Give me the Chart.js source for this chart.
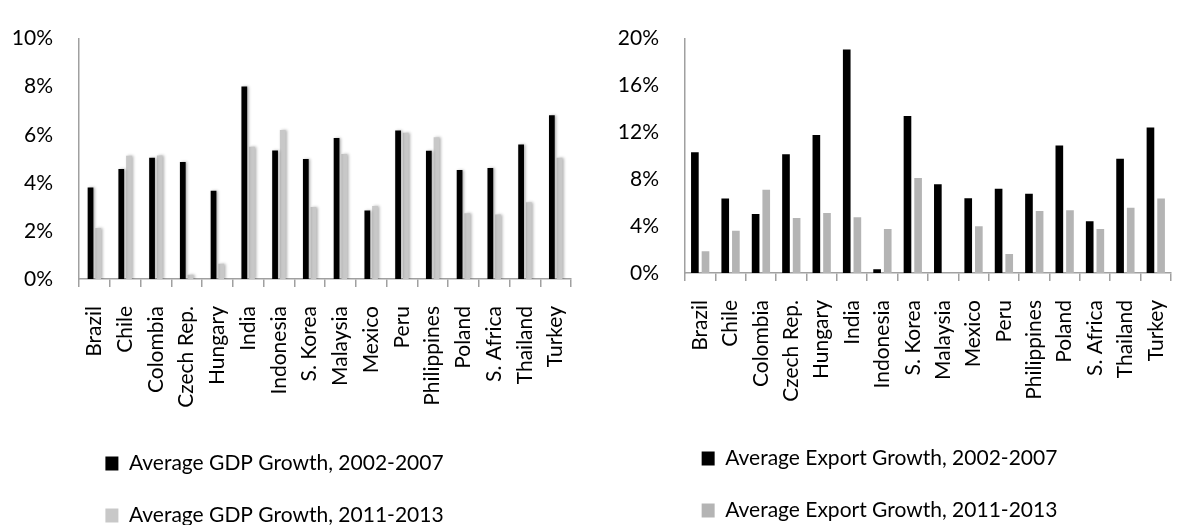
<!DOCTYPE html>
<html>
<head>
<meta charset="utf-8">
<script src="https://cdn.jsdelivr.net/npm/chart.js@4/dist/chart.umd.min.js"></script>
<style>
    html, body { margin: 0; padding: 0; background: #fff; overflow: hidden; }
    #wrap { position: relative; width: 1196px; height: 525px; overflow: hidden; }
    #wrap canvas { position: absolute; top: 0; }
    #graficoPib { left: -48px; }
    #graficoExport { left: 560px; }
</style>
</head>
<body>
<div id="wrap">
    <canvas id="graficoPib" width="648" height="536"></canvas>
    <canvas id="graficoExport" width="640" height="531"></canvas>
</div>
<script>
const paises = ['Brazil', 'Chile', 'Colombia', 'Czech Rep.', 'Hungary', 'India', 'Indonesia', 'S. Korea',
    'Malaysia', 'Mexico', 'Peru', 'Philippines', 'Poland', 'S. Africa', 'Thailand', 'Turkey'];

// crescimento medio do PIB (%)
const pib0207 = [3.81, 4.58, 5.04, 4.87, 3.67, 8.01, 5.35, 4.99, 5.87, 2.85, 6.18, 5.33, 4.53, 4.62, 5.60, 6.81];
const pib1113 = [2.12, 5.13, 5.14, 0.18, 0.63, 5.50, 6.20, 2.99, 5.20, 3.04, 6.08, 5.90, 2.74, 2.68, 3.19, 5.04];

// crescimento medio das exportacoes (%)
const exp0207 = [10.31, 6.35, 5.04, 10.13, 11.78, 19.08, 0.33, 13.40, 7.58, 6.38, 7.19, 6.77, 10.87, 4.41, 9.74, 12.42];
const exp1113 = [1.86, 3.60, 7.11, 4.70, 5.12, 4.75, 3.75, 8.11, null, 3.99, 1.63, 5.30, 5.35, 3.75, 5.57, 6.35];

const ticksPib = [0, 2, 4, 6, 8, 10];
const ticksExp = [0, 4, 8, 12, 16, 20];

Chart.defaults.font.family = 'Lato, "Noto Sans", sans-serif';
Chart.defaults.font.size = 21;
Chart.defaults.color = '#000';
Chart.defaults.animation = false;

// sombra suave nas barras do grafico do PIB
const sombraBarras = {
    id: 'sombraBarras',
    beforeDatasetsDraw(chart) {
        const c = chart.ctx;
        c.save();
        c.shadowColor = 'rgba(0, 0, 0, 0.3)';
        c.shadowBlur = 3;
        c.shadowOffsetX = 1.5;
    },
    afterDatasetsDraw(chart) {
        chart.ctx.restore();
    }
};

function opcoes(ticks, largY, altX, padDir, padX) {
    return {
        responsive: false,
        layout: { padding: { top: 19, right: padDir, left: 0, bottom: 0 } },
        plugins: {
            tooltip: { enabled: false },
            legend: {
                position: 'bottom',
                labels: { boxWidth: 13, boxHeight: 14, padding: 31, color: '#000' }
            }
        },
        scales: {
            x: {
                offset: true,
                grid: { offset: true, drawOnChartArea: false, drawTicks: true, tickLength: 8, color: '#a0a0a0', lineWidth: 1.5 },
                border: { color: '#a0a0a0', width: 1.5 },
                ticks: { minRotation: 90, maxRotation: 90, padding: padX, autoSkip: false },
                afterFit: s => { s.height = altX; }
            },
            y: {
                min: ticks[0],
                max: ticks[ticks.length - 1],
                grid: { display: false, drawTicks: false },
                border: { color: '#a0a0a0', width: 1.5 },
                ticks: { padding: 26, callback: v => v + '%' },
                afterBuildTicks: s => { s.ticks = ticks.map(v => ({ value: v })); },
                afterFit: s => { s.width = largY; }
            }
        }
    };
}

const ctxPib = document.getElementById('graficoPib');
new Chart(ctxPib, {
    type: 'bar',
    data: {
        labels: paises,
        datasets: [{
            label: 'Average GDP Growth, 2002-2007',
            data: pib0207,
            backgroundColor: '#000000',
            categoryPercentage: 0.5,
            barPercentage: 0.75
        }, {
            label: 'Average GDP Growth, 2011-2013',
            data: pib1113,
            backgroundColor: '#c8c8c8',
            categoryPercentage: 0.5,
            barPercentage: 0.75
        }]
    },
    options: opcoes(ticksPib, 127, 143, 3, 19),
    plugins: [sombraBarras]
});

const ctxExp = document.getElementById('graficoExport');
new Chart(ctxExp, {
    type: 'bar',
    data: {
        labels: paises,
        datasets: [{
            label: 'Average Export Growth, 2002-2007',
            data: exp0207,
            backgroundColor: '#000000',
            categoryPercentage: 0.7,
            barPercentage: 0.72
        }, {
            label: 'Average Export Growth, 2011-2013',
            data: exp1113,
            backgroundColor: '#b4b4b4',
            categoryPercentage: 0.7,
            barPercentage: 0.72
        }]
    },
    options: opcoes(ticksExp, 125, 144, 1, 19)
});
</script>
</body>
</html>
